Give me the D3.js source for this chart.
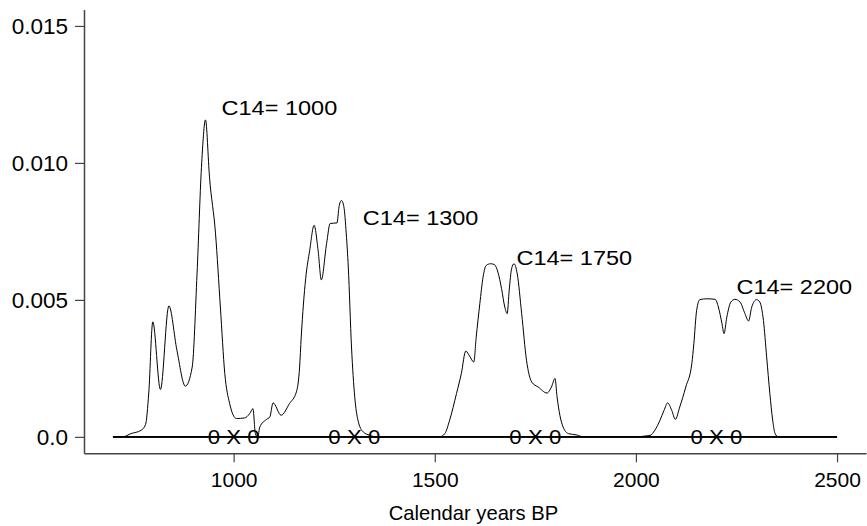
<!DOCTYPE html>
<head>
  <style>
    body { margin: 0; background: #fff; }
    text { font-family: "Liberation Sans", Arial, sans-serif; fill: #000; }
  </style>
<title>Calibrated C14 dates</title>
</head>
<body>
  <script src="https://cdn.jsdelivr.net/npm/d3@7/dist/d3.min.js"></script>
  <script>
    // radiocarbon ages that were calibrated
    const c14Ages = [1000, 1300, 1750, 2200];

    // calibrated densities, [calendar year BP, density]
    const dens1000 = [[700,0],[724,0],[745,0.00012],[770,0.00024],[781,0.00045],[789,0.0016],[799,0.0042],
      [818,0.00173],[839,0.00478],[859,0.00316],[880,0.00185],[897,0.00255],[909,0.00595],[920,0.00984],
      [930,0.01157],[940,0.00948],[955,0.00741],[967,0.00474],[978,0.00231],[990,0.00122],[1007,0.00067],
      [1027,0.00069],[1040,0.00085],[1048,0.00103],[1054,0.00012],[1059,0],[2500,0]];
    const dens1300 = [[700,0],[1060,0],[1065,0.00036],[1081,0.00063],[1090,0.00073],[1098,0.00124],[1118,0.00079],
      [1139,0.00122],[1156,0.00164],[1164,0.00255],[1168,0.00364],[1179,0.00577],[1189,0.0068],[1200,0.00772],
      [1210,0.0068],[1218,0.00573],[1231,0.00705],[1240,0.00779],[1257,0.00781],[1262,0.0084],[1268,0.00863],
      [1274,0.0084],[1280,0.00741],[1285,0.0062],[1293,0.00328],[1301,0.00146],[1309,0.00061],[1322,0.00018],
      [1338,0.00006],[1355,0],[2500,0]];
    const dens1750 = [[700,0],[1512,0],[1525,0.00012],[1537,0.00061],[1554,0.00158],[1566,0.00231],[1577,0.00313],
      [1587,0.00294],[1597,0.00273],[1603,0.00364],[1612,0.00486],[1620,0.00583],[1628,0.00626],[1639,0.00632],
      [1649,0.00628],[1657,0.00601],[1666,0.00541],[1674,0.00474],[1680,0.0045],[1685,0.00535],[1691,0.00614],
      [1697,0.00632],[1705,0.00595],[1716,0.0045],[1728,0.0028],[1741,0.002],[1757,0.00182],[1779,0.0016],
      [1790,0.00182],[1799,0.00213],[1804,0.00146],[1811,0.00079],[1819,0.00036],[1832,0.00012],[1853,0.00007],
      [1869,0],[2500,0]];
    const dens2200 = [[700,0],[1990,0],[2035,0.00005],[2047,0.00024],[2060,0.00061],[2070,0.00097],[2079,0.00124],
      [2089,0.00097],[2098,0.00064],[2109,0.00109],[2124,0.00182],[2139,0.00267],[2144,0.0034],[2151,0.00462],
      [2159,0.00501],[2176,0.00504],[2197,0.00502],[2205,0.00474],[2214,0.00413],[2219,0.00377],[2226,0.00437],
      [2236,0.00492],[2246,0.00502],[2259,0.00492],[2271,0.0045],[2280,0.00423],[2288,0.00474],[2300,0.00501],
      [2308,0.00492],[2317,0.00425],[2325,0.00292],[2333,0.00158],[2340,0.00061],[2346,0.00012],[2354,0],[2500,0]];

    // where each "C14= ..." label sits (year, density of its baseline)
    const labelYear = [970, 1321, 1703, 2250];
    const labelDens = [0.01175, 0.00774, 0.00627, 0.0052];

    // axis ticks
    const xTicks = [1000, 1500, 2000, 2500];
    const yTicks = [0, 0.005, 0.010, 0.015];
    const yTickLabels = ["0.0", "0.005", "0.010", "0.015"];

    const xRange = [700, 2500];
    const yRange = [0, 0.015];

    const width = 867, height = 526;
    const margin = {top: 9.5, right: 1, bottom: 72.7, left: 84};

    // R style axes: data range widened by 4% each side
    const padX = (xRange[1] - xRange[0]) * 0.04, padY = (yRange[1] - yRange[0]) * 0.04;
    const x = d3.scaleLinear().domain([xRange[0] - padX, xRange[1] + padX]).range([margin.left, width - margin.right]);
    const y = d3.scaleLinear().domain([yRange[0] - padY, yRange[1] + padY]).range([height - margin.bottom, margin.top]);

    const svg = d3.select("body").append("svg")
      .attr("width", width)
      .attr("height", height);

    // axes
    const yAxis = svg.append("g")
      .attr("transform", "translate(" + margin.left + ",0)")
      .call(d3.axisLeft(y).tickValues(yTicks).tickFormat((d, i) => yTickLabels[i]).tickSize(9).tickPadding(7).tickSizeOuter(0));
    const xAxis = svg.append("g")
      .attr("transform", "translate(0," + (height - margin.bottom) + ")")
      .call(d3.axisBottom(x).tickValues(xTicks).tickFormat(d3.format("d")).tickSize(9).tickPadding(9.5).tickSizeOuter(0));
    [yAxis, xAxis].forEach(g => {
      g.select(".domain").attr("stroke", "#444").attr("stroke-width", 1.5);
      g.selectAll(".tick line").attr("stroke", "#444").attr("stroke-width", 1.2);
      g.selectAll(".tick text").attr("font-family", "Liberation Sans, Arial, sans-serif").attr("fill", "#000");
    });
    yAxis.selectAll(".tick text").attr("font-size", 22.5);
    xAxis.selectAll(".tick text").attr("font-size", 21);

    // x label
    svg.append("text")
      .attr("x", (margin.left + width) / 2 - 2)
      .attr("y", height - 6)
      .attr("text-anchor", "middle")
      .attr("font-size", 20.2)
      .text("Calendar years BP");

    // zero line
    svg.append("line")
      .attr("x1", x(xRange[0])).attr("x2", x(xRange[1]))
      .attr("y1", y(0)).attr("y2", y(0))
      .attr("stroke", "#000").attr("stroke-width", 1.6);

    // density curves
    const line = d3.line()
      .x(d => x(d[0]))
      .y(d => y(d[1]))
      .curve(d3.curveMonotoneX);

    svg.selectAll("path.dens")
      .data([dens1000, dens1300, dens1750, dens2200])
      .enter().append("path")
      .attr("class", "dens")
      .attr("d", line)
      .attr("fill", "none")
      .attr("stroke", "#000")
      .attr("stroke-width", 1);

    // labels, slightly wide type like the original
    svg.selectAll("text.c14")
      .data(c14Ages)
      .enter().append("text")
      .attr("class", "c14")
      .attr("transform", (d, i) => "translate(" + x(labelYear[i]) + "," + y(labelDens[i]) + ") scale(1.12,1)")
      .attr("font-size", 21)
      .text(d => "C14= " + d);

    svg.selectAll("text.err")
      .data(c14Ages)
      .enter().append("text")
      .attr("class", "err")
      .attr("transform", d => "translate(" + x(d) + "," + y(0) + ") scale(1.06,1)")
      .attr("dy", "0.35em")
      .attr("text-anchor", "middle")
      .attr("font-size", 21)
      .text("0 X 0");
  </script>
</body>
